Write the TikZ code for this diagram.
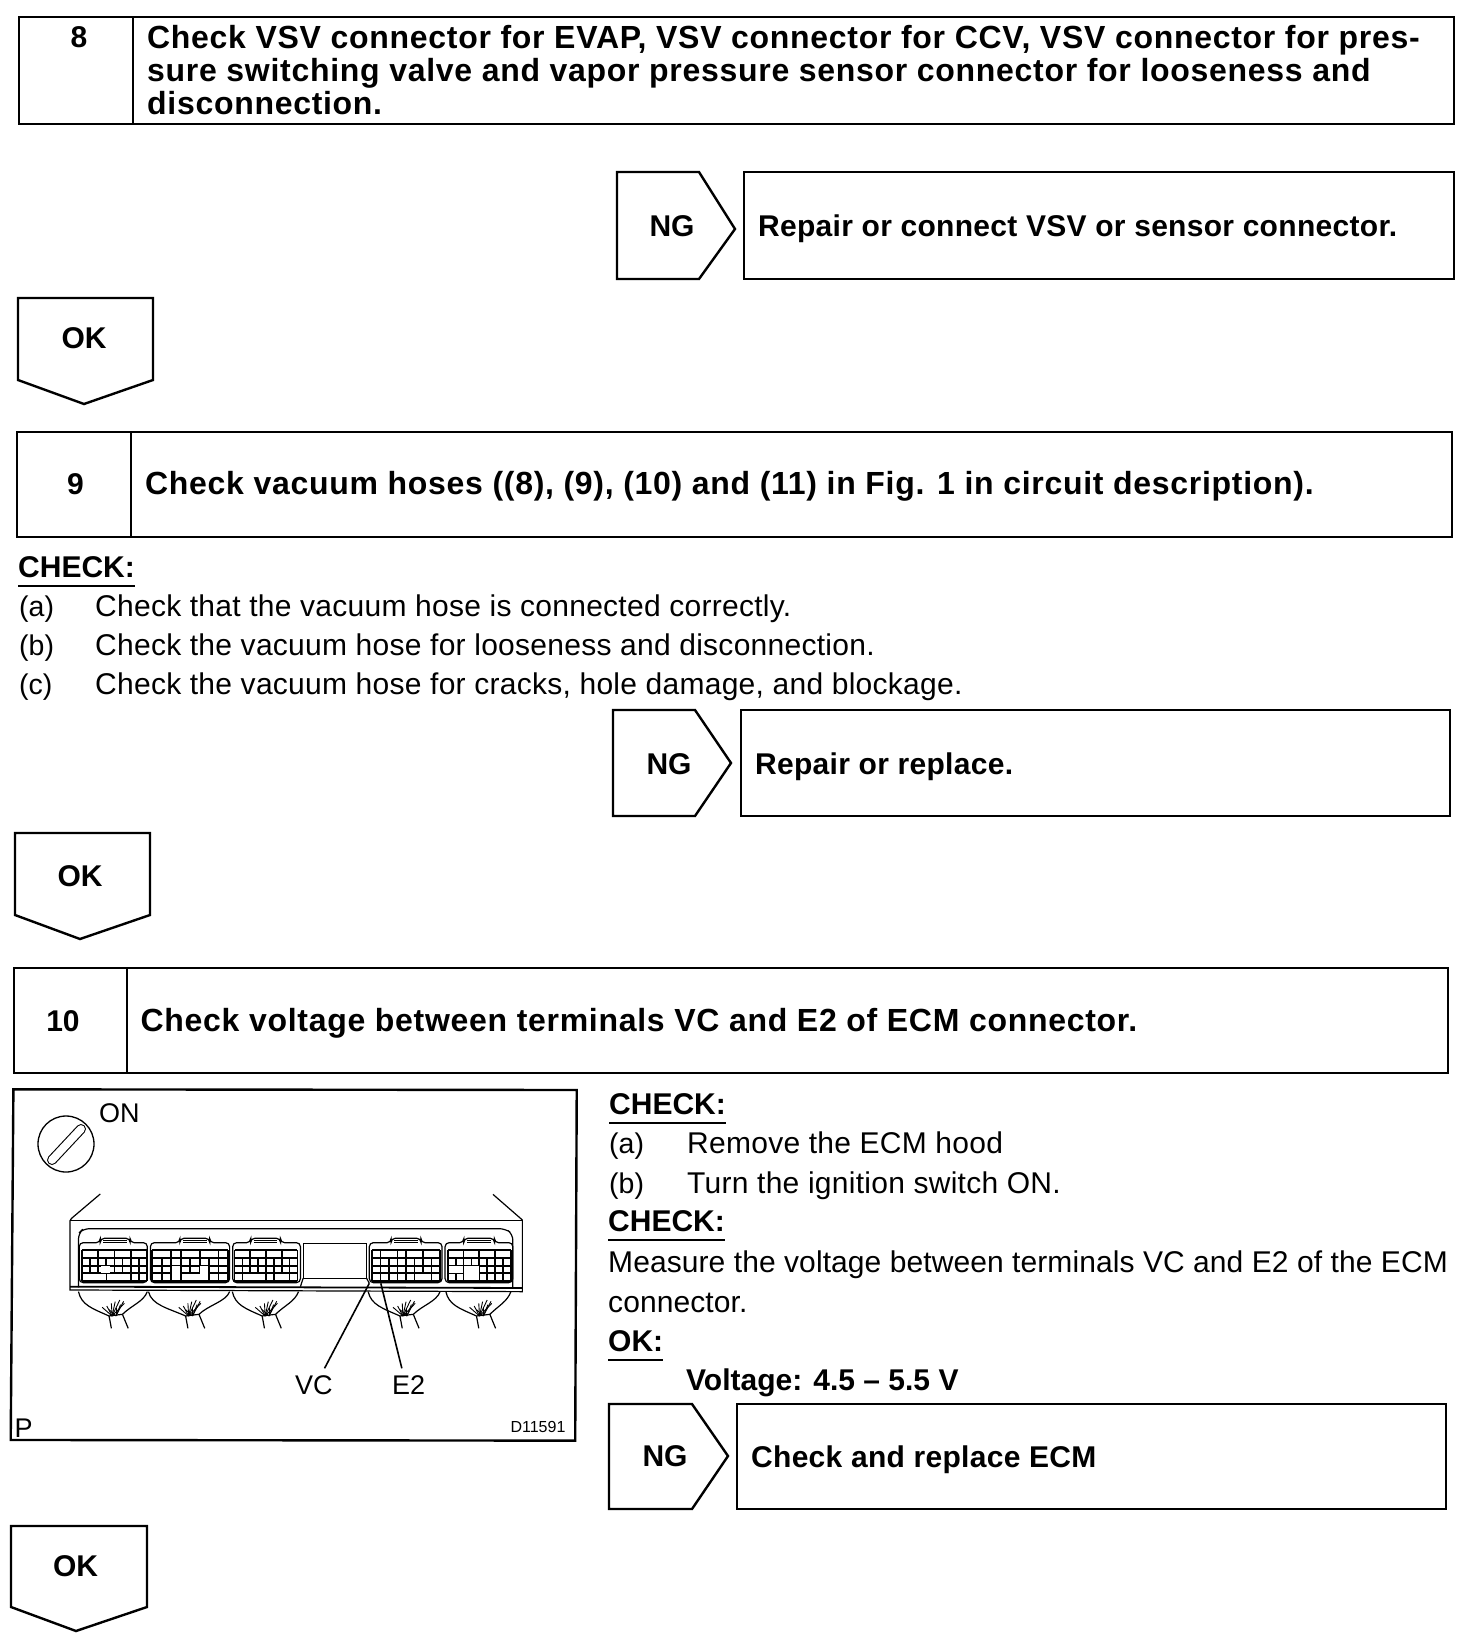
\documentclass[tikz,border=0pt]{standalone}
\usepackage{fontspec}
\setmainfont{Liberation Sans}
\newfontfamily\titlefont[LetterSpace=2.2]{Liberation Sans}
\newfontfamily\boxfont[LetterSpace=1]{Liberation Sans}
\newfontfamily\bodyfont[LetterSpace=0.9]{Liberation Sans}
\newfontfamily\longfont[LetterSpace=0.3]{Liberation Sans}
\newcommand\ecmconn[8]{%
 % #1 x0, #2 x1, #3 tab0, #4 tab1, #5 grid x0, #6 grid x1, #7 blanks, #8 top-row gaps
 \draw[figline,rounded corners=4] (#1,638) -- (#1,518) -- (#3,518) -- (#3,505) -- (#4,505) -- (#4,518) -- (#2,518) -- (#2,638) -- cycle;
 \draw[figline] (#3+8,518) -- (#4-8,518) (#3+8,512) -- (#4-8,512);
 \pgfmathsetmacro\gstep{(#6-#5)/8}
 \foreach \yy in {541,564,587,610,632} \draw[gridline] (#5,\yy) -- (#6,\yy);
 \foreach \cc in {0,...,8} \draw[gridline] ({#5+\cc*\gstep},541) -- ({#5+\cc*\gstep},632);
 \foreach \ca/\ra/\cb/\rb in {#7} \fill[white] ({#5+\ca*\gstep+2},{541+\ra*23+2}) rectangle ({#5+\cb*\gstep-2},{541+\rb*23-2});
 \foreach \cc in {#8} \fill[white] ({#5+\cc*\gstep-3},544) rectangle ({#5+\cc*\gstep+3},562);
}
\newcommand\ecmwire[4]{%
 % #1 left start, #2 right start, #3 bundle left x, #4 bundle right x
 \draw[figline] (#1,665) .. controls (#1+8,705) and (#3-45,715) .. (#3,738);
 \draw[figline] (#2,665) .. controls (#2-10,695) and (#4+25,705) .. (#4,733);
 \draw[figline] (#3,738) -- (#4,733);
 \draw[figline] (#3,738) .. controls (#3+2,750) .. (#3+6,775);
 \draw[figline] (#4,733) .. controls (#4+6,750) .. (#4+15,775);
 \foreach \fx/\fy in {-18/712,-6/708,6/700,16/695,28/690,40/700} \draw[thinline] (#3+8,738) -- (#3+\fx,\fy);
 \foreach \fx/\fy in {-8/715,10/710,22/700,30/690} \draw[thinline] (#3+18,738) -- (#3+\fx+8,\fy+4);
}
\tikzset{
 x=1pt,y=-1pt,
 frameline/.style={line width=2.4pt,black,line join=miter},
 titletxt/.style={font=\fontsize{32}{33}\titlefont\bfseries,anchor=base west,inner sep=0pt},
 boxtxt/.style={font=\fontsize{30}{33}\boxfont\bfseries,anchor=base west,inner sep=0pt},
 boldtxt/.style={font=\fontsize{30}{33}\selectfont\bfseries,anchor=base west,inner sep=0pt},
 boldmid/.style={font=\fontsize{30}{33}\selectfont\bfseries,anchor=center,inner sep=0pt},
 plaintxt/.style={font=\fontsize{30}{33}\bodyfont,anchor=base west,inner sep=0pt},
 longtxt/.style={font=\fontsize{30}{33}\longfont,anchor=base west,inner sep=0pt},
 labeltxt/.style={font=\fontsize{28.5}{33}\selectfont,anchor=base west,inner sep=0pt},
 figtxt/.style={font=\fontsize{27}{30}\selectfont,anchor=center,inner sep=0pt},
 figline/.style={line width=1.2pt,black},
 gridline/.style={line width=1.7pt,black},
 thinline/.style={line width=0.9pt,black},
 leaderline/.style={line width=1.6pt,black},
 ruleline/.style={line width=1.4pt,black},
}
\begin{document}
\begin{tikzpicture}
\useasboundingbox (0,0) rectangle (1472,1644);
% step 8
\draw[frameline] (19,17) rectangle (1454,124);
\draw[frameline] (133,17) -- (133,124);
\node[boldmid] (n8) at (79,37) {8};
\node[titletxt,anchor=north west,align=left] (t8) at (147,25) {Check VSV connector for EVAP, VSV connector for CCV, VSV connector for pres-\\sure switching valve and vapor pressure sensor connector for looseness and\\disconnection.};
\draw[frameline] (617,172) -- (699,172) -- (735,229) -- (699,279) -- (617,279) -- cycle;
\node[boldmid] (ng8) at (672,226) {NG};
\draw[frameline] (744,172) rectangle (1454,279);
\node[boxtxt] (r8) at (758,236) {Repair or connect VSV or sensor connector.};
\draw[frameline] (18,298) -- (153,298) -- (153,380) -- (84,404) -- (18,380) -- cycle;
\node[boldmid] (ok8) at (84,338) {OK};
% step 9
\draw[frameline] (17,432) rectangle (1452,537);
\draw[frameline] (131,432) -- (131,537);
\node[boldmid] (n9) at (75.5,484) {9};
\node[titletxt] (t9) at (145,494) {Check vacuum hoses ((8), (9), (10) and (11) in Fig. 1 in circuit description).};
\node[boldtxt] (c9) at (18,577) {CHECK:};
\draw[ruleline] (18,586) -- (135,586);
\node[labeltxt] (a9l) at (19,616) {(a)};
\node[plaintxt] (a9) at (95,616) {Check that the vacuum hose is connected correctly.};
\node[labeltxt] (b9l) at (19,655) {(b)};
\node[plaintxt] (b9) at (95,655) {Check the vacuum hose for looseness and disconnection.};
\node[labeltxt] (c9l) at (19,694) {(c)};
\node[plaintxt] (c9t) at (95,694) {Check the vacuum hose for cracks, hole damage, and blockage.};
\draw[frameline] (613,710) -- (695,710) -- (731,763) -- (695,816) -- (613,816) -- cycle;
\node[boldmid] (ng9) at (669,764) {NG};
\draw[frameline] (741,710) rectangle (1450,816);
\node[boxtxt] (r9) at (755,774) {Repair or replace.};
\draw[frameline] (15,833) -- (150,833) -- (150,915) -- (80,939) -- (15,915) -- cycle;
\node[boldmid] (ok9) at (80,876) {OK};
% step 10
\draw[frameline] (14,968) rectangle (1448,1073);
\draw[frameline] (127,968) -- (127,1073);
\node[boldmid] (n10) at (63,1021) {10};
\node[titletxt] (t10) at (140.5,1031.5) {Check voltage between terminals VC and E2 of ECM connector.};
\node[boldtxt] (c10) at (609,1114) {CHECK:};
\draw[ruleline] (609,1123) -- (726,1123);
\node[labeltxt] (a10l) at (609,1153) {(a)};
\node[plaintxt] (a10) at (687,1153) {Remove the ECM hood};
\node[labeltxt] (b10l) at (609,1193) {(b)};
\node[plaintxt] (b10) at (687,1193) {Turn the ignition switch ON.};
\node[boldtxt] (c10b) at (608,1231) {CHECK:};
\draw[ruleline] (608,1240) -- (725,1240);
\node[longtxt] (m1) at (608,1272) {Measure the voltage between terminals VC and E2 of the ECM};
\node[longtxt] (m2) at (608,1312) {connector.};
\node[boldtxt] (ok10h) at (608,1351) {OK:};
\draw[ruleline] (608,1360) -- (663,1360);
\node[boldtxt] (v10) at (686,1390) {Voltage: 4.5 -- 5.5 V};
\draw[frameline] (609,1404) -- (692,1404) -- (728,1456) -- (692,1509) -- (609,1509) -- cycle;
\node[boldmid] (ng10) at (665,1456) {NG};
\draw[frameline] (737,1404) rectangle (1446,1509);
\node[boxtxt] (r10) at (751,1467) {Check and replace ECM};
\draw[frameline] (11,1526) -- (147,1526) -- (147,1607) -- (76,1631) -- (11,1607) -- cycle;
\node[boldmid] (ok10) at (75.5,1566) {OK};
% key symbol
\draw[figline,line width=1.3pt] (66,1144) circle (28);
\draw[line width=10pt,black,line cap=round] (52,1160) -- (81,1129);
\draw[line width=7.8pt,white,line cap=round] (52,1160) -- (81,1129);
% illustration, in zoomed-crop units
\begin{scope}[shift={(0,1070)},x=0.3827pt,y=-0.3333pt]
 \draw[frameline] (35,58) -- (1507,60) -- (1503,1112) -- (28,1110) -- cycle;
 \node[figtxt] (on) at (312,130) {ON};
 \draw[figline] (262,372) -- (187,445) -- (183,452) -- (183,660) -- (1365,665) -- (1365,450) -- (1288,373);
 \draw[figline] (183,452) -- (1365,452);
 \draw[figline,rounded corners=6] (205,652) -- (205,490) -- (218,476) -- (1320,476) -- (1340,492) -- (1340,652);
 \draw[line width=1.8pt] (183,650) -- (1365,654);
 \ecmconn{207}{385}{262}{340}{214}{384}{3/3/6/4,0/3/3/4,2.3/2/3.5/3}{1,3,5,7}
 \ecmconn{393}{600}{470}{548}{398}{596}{2/2/3/4,5/2/6/4,3/3/6/4}{1,2.5,4,6}
 \ecmconn{608}{785}{655}{733}{613}{777}{1/3/3.5/4,5/3/7/4}{1,3,5,7}
 \draw[figline] (792,520) rectangle (958,625);
 \draw[figline] (785,650) -- (792,625) (958,625) -- (965,640);
 \ecmconn{965}{1155}{1022}{1100}{972}{1150}{5/3/7/4,0/0/1/1}{2,5,7}
 \ecmconn{1163}{1340}{1212}{1292}{1170}{1335}{0/2/2/3,2/2/4/4,7/3/7.5/4}{1,3,5,7}
 \ecmwire{205}{385}{285}{320}
 \ecmwire{388}{600}{485}{520}
 \ecmwire{607}{780}{685}{720}
 \ecmwire{962}{1150}{1045}{1080}
 \ecmwire{1165}{1335}{1245}{1280}
 \coordinate (vcp) at (965,640);
 \coordinate (e2p) at (995,640);
 \node[figtxt] (vc) at (820,945) {VC};
 \node[figtxt] (e2) at (1068,945) {E2};
 \draw[leaderline] (848,895) -- (vcp);
 \draw[leaderline] (1050,895) -- (e2p);
 \node[figtxt] (p) at (62,1075) {P};
 \node[font=\fontsize{16}{18}\selectfont,anchor=east,inner sep=0pt] (d) at (1478,1070) {D11591};
\end{scope}
\end{tikzpicture}
\end{document}
